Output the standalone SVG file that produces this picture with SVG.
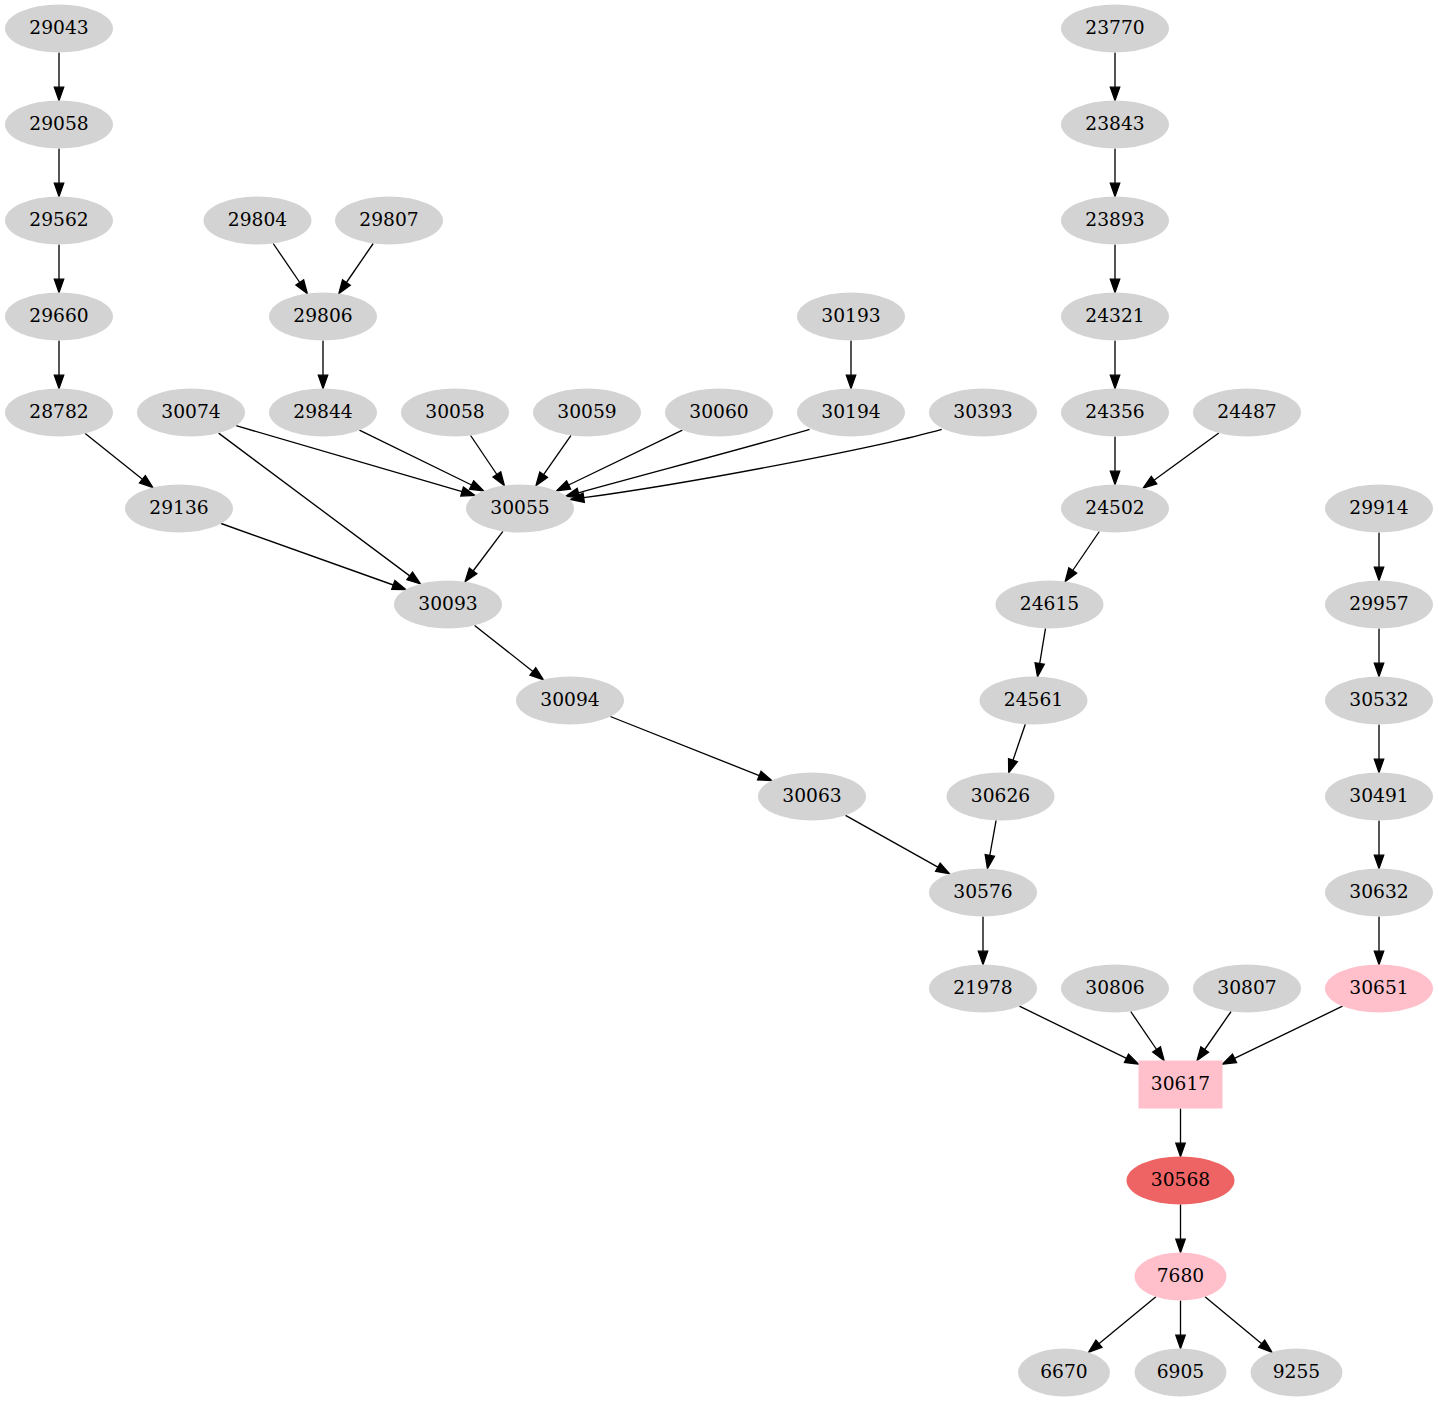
<svg xmlns="http://www.w3.org/2000/svg" width="1438" height="1403" viewBox="0 0 1438 1403">
<style>
.n ellipse,.n rect{fill:#d3d3d3;stroke:none}
.p ellipse,.p rect{fill:#ffc0cb}
.r ellipse{fill:#ee6363}
text{font-family:"DejaVu Serif","Liberation Serif",serif;font-size:18.67px;text-anchor:middle;fill:#000}
#edges path{fill:none;stroke:#000;stroke-width:1.33;marker-end:url(#ah)}
</style>
<defs>
<marker id="ah" markerUnits="userSpaceOnUse" markerWidth="16" markerHeight="12" refX="0" refY="0" viewBox="-1 -6 16 12" orient="auto" overflow="visible">
<path d="M0,-4.67 L13.33,0 L0,4.67 Z" fill="#000" stroke="#000" stroke-width="1.33"/>
</marker>
</defs>
<rect width="1438" height="1403" fill="#fff"/>
<g id="edges">
<path d="M59,52.5V87.2"/>
<path d="M59,148.5V183.2"/>
<path d="M59,244.5V279.2"/>
<path d="M59,340.5V375.2"/>
<path d="M323,340.5V375.2"/>
<path d="M851,340.5V375.2"/>
<path d="M1115,52.5V87.2"/>
<path d="M1115,148.5V183.2"/>
<path d="M1115,244.5V279.2"/>
<path d="M1115,340.5V375.2"/>
<path d="M1115,436.5V471.2"/>
<path d="M983,916.5V951.2"/>
<path d="M1379,532.5V567.2"/>
<path d="M1379,628.5V663.2"/>
<path d="M1379,724.5V759.2"/>
<path d="M1379,820.5V855.2"/>
<path d="M1379,916.5V951.2"/>
<path d="M1180.5,1108.5V1143.2"/>
<path d="M1180.5,1204.5V1239.2"/>
<path d="M1180.5,1300.5V1335.2"/>
<path d="M85.2,433.5L142.4,479.2"/>
<path d="M221.1,523.5L393.3,585"/>
<path d="M218.6,433.1L409.7,575.9"/>
<path d="M236.1,425.7L462.1,491.6"/>
<path d="M273.2,243.5L299.8,282.5"/>
<path d="M373.2,243.5L346.4,282.5"/>
<path d="M359.4,430.2L471.6,485"/>
<path d="M470.6,435.5L496.9,474.5"/>
<path d="M571,435.4L543.6,474.7"/>
<path d="M682.4,430.2L568.6,485"/>
<path d="M809.6,429.3C760,444 650,473 578.4,492.8"/>
<path d="M941.7,429.3C884,445.8 702.6,481.4 583.7,497.7"/>
<path d="M502.9,531.3L473.1,571"/>
<path d="M474.6,625.4L532.9,671.4"/>
<path d="M610.3,716.5L759.3,775.6"/>
<path d="M845.5,815.3L937.9,867.2"/>
<path d="M1218.8,433L1154,480.2"/>
<path d="M1099.3,531.5L1072.7,570.5"/>
<path d="M1045.5,628.4L1039.7,663.5"/>
<path d="M1025.3,724.2L1013,760.2"/>
<path d="M996.1,820.4L989.8,855.5"/>
<path d="M1019.4,1006.2L1126.5,1058.3"/>
<path d="M1130.7,1011.5L1156.6,1049.5"/>
<path d="M1231.1,1011.5L1204.7,1049.5"/>
<path d="M1342.5,1006.2L1234.5,1058.4"/>
<path d="M1155.9,1296.8L1098.9,1343.7"/>
<path d="M1205,1296.8L1261.7,1343.7"/>
</g>
<g id="n29043" class="n"><ellipse cx="59" cy="28.5" rx="54" ry="24"/><text x="59" y="34">29043</text></g>
<g id="n29058" class="n"><ellipse cx="59" cy="124.5" rx="54" ry="24"/><text x="59" y="130">29058</text></g>
<g id="n29562" class="n"><ellipse cx="59" cy="220.5" rx="54" ry="24"/><text x="59" y="226">29562</text></g>
<g id="n29660" class="n"><ellipse cx="59" cy="316.5" rx="54" ry="24"/><text x="59" y="322">29660</text></g>
<g id="n28782" class="n"><ellipse cx="59" cy="412.5" rx="54" ry="24"/><text x="59" y="418">28782</text></g>
<g id="n29804" class="n"><ellipse cx="257.5" cy="220.5" rx="54" ry="24"/><text x="257.5" y="226">29804</text></g>
<g id="n29807" class="n"><ellipse cx="389" cy="220.5" rx="54" ry="24"/><text x="389" y="226">29807</text></g>
<g id="n29806" class="n"><ellipse cx="323" cy="316.5" rx="54" ry="24"/><text x="323" y="322">29806</text></g>
<g id="n30193" class="n"><ellipse cx="851" cy="316.5" rx="54" ry="24"/><text x="851" y="322">30193</text></g>
<g id="n30074" class="n"><ellipse cx="191" cy="412.5" rx="54" ry="24"/><text x="191" y="418">30074</text></g>
<g id="n29844" class="n"><ellipse cx="323" cy="412.5" rx="54" ry="24"/><text x="323" y="418">29844</text></g>
<g id="n30058" class="n"><ellipse cx="455" cy="412.5" rx="54" ry="24"/><text x="455" y="418">30058</text></g>
<g id="n30059" class="n"><ellipse cx="587" cy="412.5" rx="54" ry="24"/><text x="587" y="418">30059</text></g>
<g id="n30060" class="n"><ellipse cx="719" cy="412.5" rx="54" ry="24"/><text x="719" y="418">30060</text></g>
<g id="n30194" class="n"><ellipse cx="851" cy="412.5" rx="54" ry="24"/><text x="851" y="418">30194</text></g>
<g id="n30393" class="n"><ellipse cx="983" cy="412.5" rx="54" ry="24"/><text x="983" y="418">30393</text></g>
<g id="n29136" class="n"><ellipse cx="179" cy="508.5" rx="54" ry="24"/><text x="179" y="514">29136</text></g>
<g id="n30055" class="n"><ellipse cx="520" cy="508.5" rx="54" ry="24"/><text x="520" y="514">30055</text></g>
<g id="n30093" class="n"><ellipse cx="448" cy="604.5" rx="54" ry="24"/><text x="448" y="610">30093</text></g>
<g id="n30094" class="n"><ellipse cx="570" cy="700.5" rx="54" ry="24"/><text x="570" y="706">30094</text></g>
<g id="n30063" class="n"><ellipse cx="812" cy="796.5" rx="54" ry="24"/><text x="812" y="802">30063</text></g>
<g id="n23770" class="n"><ellipse cx="1115" cy="28.5" rx="54" ry="24"/><text x="1115" y="34">23770</text></g>
<g id="n23843" class="n"><ellipse cx="1115" cy="124.5" rx="54" ry="24"/><text x="1115" y="130">23843</text></g>
<g id="n23893" class="n"><ellipse cx="1115" cy="220.5" rx="54" ry="24"/><text x="1115" y="226">23893</text></g>
<g id="n24321" class="n"><ellipse cx="1115" cy="316.5" rx="54" ry="24"/><text x="1115" y="322">24321</text></g>
<g id="n24356" class="n"><ellipse cx="1115" cy="412.5" rx="54" ry="24"/><text x="1115" y="418">24356</text></g>
<g id="n24487" class="n"><ellipse cx="1247" cy="412.5" rx="54" ry="24"/><text x="1247" y="418">24487</text></g>
<g id="n24502" class="n"><ellipse cx="1115" cy="508.5" rx="54" ry="24"/><text x="1115" y="514">24502</text></g>
<g id="n24615" class="n"><ellipse cx="1049.5" cy="604.5" rx="54" ry="24"/><text x="1049.5" y="610">24615</text></g>
<g id="n24561" class="n"><ellipse cx="1033.5" cy="700.5" rx="54" ry="24"/><text x="1033.5" y="706">24561</text></g>
<g id="n30626" class="n"><ellipse cx="1000.5" cy="796.5" rx="54" ry="24"/><text x="1000.5" y="802">30626</text></g>
<g id="n30576" class="n"><ellipse cx="983" cy="892.5" rx="54" ry="24"/><text x="983" y="898">30576</text></g>
<g id="n29914" class="n"><ellipse cx="1379" cy="508.5" rx="54" ry="24"/><text x="1379" y="514">29914</text></g>
<g id="n29957" class="n"><ellipse cx="1379" cy="604.5" rx="54" ry="24"/><text x="1379" y="610">29957</text></g>
<g id="n30532" class="n"><ellipse cx="1379" cy="700.5" rx="54" ry="24"/><text x="1379" y="706">30532</text></g>
<g id="n30491" class="n"><ellipse cx="1379" cy="796.5" rx="54" ry="24"/><text x="1379" y="802">30491</text></g>
<g id="n30632" class="n"><ellipse cx="1379" cy="892.5" rx="54" ry="24"/><text x="1379" y="898">30632</text></g>
<g id="n21978" class="n"><ellipse cx="983" cy="988.5" rx="54" ry="24"/><text x="983" y="994">21978</text></g>
<g id="n30806" class="n"><ellipse cx="1115" cy="988.5" rx="54" ry="24"/><text x="1115" y="994">30806</text></g>
<g id="n30807" class="n"><ellipse cx="1247" cy="988.5" rx="54" ry="24"/><text x="1247" y="994">30807</text></g>
<g id="n30651" class="n p"><ellipse cx="1379" cy="988.5" rx="54" ry="24"/><text x="1379" y="994">30651</text></g>
<g id="n30617" class="n p"><rect x="1138.5" y="1060.5" width="84" height="48"/><text x="1180.5" y="1090">30617</text></g>
<g id="n30568" class="n r"><ellipse cx="1180.5" cy="1180.5" rx="54" ry="24"/><text x="1180.5" y="1186">30568</text></g>
<g id="n7680" class="n p"><ellipse cx="1180.5" cy="1276.5" rx="46" ry="24"/><text x="1180.5" y="1282">7680</text></g>
<g id="n6670" class="n"><ellipse cx="1064" cy="1372.5" rx="46" ry="24"/><text x="1064" y="1378">6670</text></g>
<g id="n6905" class="n"><ellipse cx="1180.5" cy="1372.5" rx="46" ry="24"/><text x="1180.5" y="1378">6905</text></g>
<g id="n9255" class="n"><ellipse cx="1296.5" cy="1372.5" rx="46" ry="24"/><text x="1296.5" y="1378">9255</text></g>
</svg>
